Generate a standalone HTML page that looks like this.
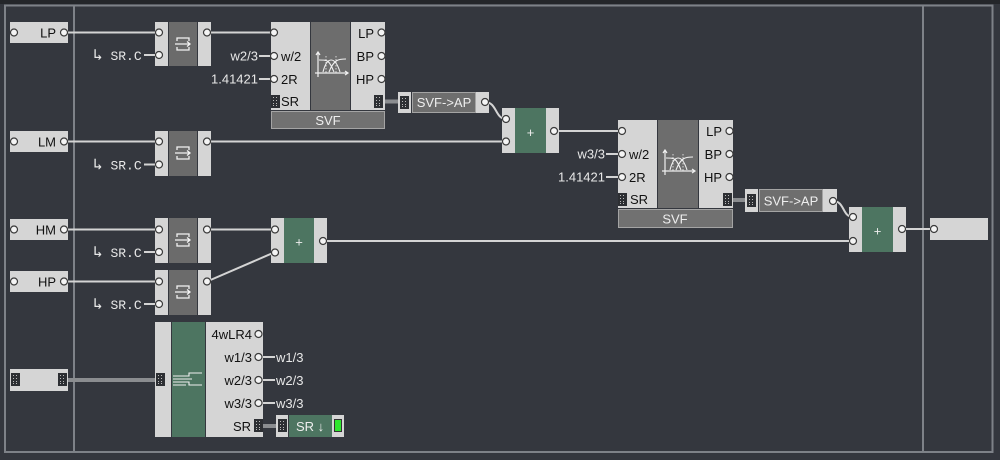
<!DOCTYPE html>
<html><head><meta charset="utf-8"><style>
html,body{margin:0;padding:0;background:#34373e;width:1000px;height:460px;overflow:hidden}
svg{display:block}
.t{font-family:"Liberation Sans","DejaVu Sans",sans-serif;font-size:13px}
.m{font-family:"Liberation Mono","DejaVu Sans Mono",monospace;font-size:13px}
</style></head><body>
<svg width="1000" height="460" viewBox="0 0 1000 460" xmlns="http://www.w3.org/2000/svg">
<defs>
<g id="sr">
<rect x="0" y="0" width="9" height="13" fill="#2d2f33"/>
<rect x="2" y="2" width="1" height="1" fill="#bbb"/><rect x="5" y="2" width="1" height="1" fill="#bbb"/>
<rect x="2" y="5" width="1" height="1" fill="#bbb"/><rect x="5" y="5" width="1" height="1" fill="#bbb"/>
<rect x="2" y="8" width="1" height="1" fill="#bbb"/><rect x="5" y="8" width="1" height="1" fill="#bbb"/>
<rect x="2" y="10" width="1" height="1" fill="#bbb"/><rect x="5" y="10" width="1" height="1" fill="#bbb"/>
</g>
<g id="conv">
<path d="M-6,-3 V-6 H6 V-3 M-6,3 V6 H6 V3 M-8,0 H7 M4,-2.5 L7,0 L4,2.5" fill="none" stroke="#f2f2f2" stroke-width="1.3"/>
</g>
<g id="svfi">
<path d="M-13,-12 V13 M-16,9 H17 M14,7 L17,9 L14,11 M-15,-9 L-13,-12 L-11,-9" fill="none" stroke="#f0f0f0" stroke-width="1.2"/>
<path d="M-12,-4 C-3,-4 -2,-4 3,8 M-8,8 C-4,-8 4,-8 9,8 M-2,8 C3,-5 8,-5 15,-5" fill="none" stroke="#f0f0f0" stroke-width="1.1"/>
<path d="M-5,-8 V9 M5,-8 V9" fill="none" stroke="#f0f0f0" stroke-width="0.8" stroke-dasharray="1.5,1.5"/>
</g>
</defs>

<rect width="1000" height="460" fill="#34373e"/>
<rect width="1000" height="4" fill="#24262a"/>
<rect x="5" y="5.5" width="987.5" height="446.5" fill="none" stroke="#7e8288" stroke-width="2"/>
<line x1="74" y1="5" x2="74" y2="452" stroke="#7e8288" stroke-width="2"/>
<line x1="923" y1="5" x2="923" y2="452" stroke="#7e8288" stroke-width="2"/>

<!-- thick SR links -->
<g stroke="#8b8d90" stroke-width="4">
<line x1="66" y1="380" x2="158" y2="380"/>
<line x1="380" y1="101.5" x2="402" y2="101.5"/>
<line x1="729" y1="200" x2="750" y2="200"/>
<line x1="260" y1="426" x2="283" y2="426"/>
</g>

<!-- wires -->
<g fill="none" stroke="#d4d4d4" stroke-width="2">
<line x1="64" y1="32.5" x2="159" y2="32.5"/>
<line x1="207" y1="32.5" x2="274" y2="32.5"/>
<line x1="64" y1="141.5" x2="159" y2="141.5"/>
<line x1="207" y1="141.5" x2="506" y2="141.5"/>
<line x1="64" y1="229.5" x2="159" y2="229.5"/>
<line x1="207" y1="229.5" x2="274" y2="229.5"/>
<line x1="64" y1="281.5" x2="159" y2="281.5"/>
<line x1="207" y1="281.5" x2="274" y2="252.5"/>
<line x1="323" y1="241" x2="853" y2="241"/>
<path d="M485,102 C497,102 495,119 506,119"/>
<line x1="554" y1="131" x2="622" y2="131"/>
<path d="M833,201 C845,201 842,217 853,217"/>
<line x1="902" y1="229" x2="934" y2="229"/>
<!-- label stubs -->
<line x1="144" y1="55" x2="159" y2="55"/>
<line x1="144" y1="164.5" x2="159" y2="164.5"/>
<line x1="144" y1="252" x2="159" y2="252"/>
<line x1="144" y1="304" x2="159" y2="304"/>
<line x1="259" y1="56" x2="274" y2="56"/>
<line x1="259" y1="79" x2="274" y2="79"/>
<line x1="606" y1="154" x2="622" y2="154"/>
<line x1="606" y1="177" x2="622" y2="177"/>
<line x1="258" y1="357" x2="275" y2="357"/>
<line x1="258" y1="380" x2="275" y2="380"/>
<line x1="258" y1="403" x2="275" y2="403"/>
</g>

<!-- input nodes -->
<g fill="#d5d5d5">
<rect x="10" y="22" width="58" height="21"/>
<rect x="10" y="131" width="58" height="21"/>
<rect x="10" y="219" width="58" height="21"/>
<rect x="10" y="271" width="58" height="21"/>
<rect x="10" y="369" width="58" height="22"/>
<rect x="930" y="218" width="58" height="22"/>
</g>
<use href="#sr" x="11" y="373"/>
<use href="#sr" x="58" y="373"/>
<g class="t" fill="#111" text-anchor="end" font-size="14">
<text x="56" y="37.5">LP</text>
<text x="56" y="146.5">LM</text>
<text x="56" y="234.5">HM</text>
<text x="56" y="286.5">HP</text>
</g>

<!-- converters -->
<g>
<g fill="#d5d5d5">
<rect x="155" y="22" width="13" height="44"/><rect x="198" y="22" width="13" height="44"/>
<rect x="155" y="131" width="13" height="45"/><rect x="198" y="131" width="13" height="45"/>
<rect x="155" y="218" width="13" height="45"/><rect x="198" y="218" width="13" height="45"/>
<rect x="155" y="270" width="13" height="45"/><rect x="198" y="270" width="13" height="45"/>
</g>
<g fill="#6b6b6b">
<rect x="169" y="22" width="28" height="44"/>
<rect x="169" y="131" width="28" height="45"/>
<rect x="169" y="218" width="28" height="45"/>
<rect x="169" y="270" width="28" height="45"/>
</g>
<use href="#conv" x="183" y="44"/>
<use href="#conv" x="183" y="153"/>
<use href="#conv" x="183" y="240"/>
<use href="#conv" x="183" y="292"/>
</g>
<g class="m" fill="#e8e8e8" font-size="13.5">
<text x="93" y="60"><tspan font-size="16">↳</tspan> SR.C</text>
<text x="93" y="169.5"><tspan font-size="16">↳</tspan> SR.C</text>
<text x="93" y="257"><tspan font-size="16">↳</tspan> SR.C</text>
<text x="93" y="309"><tspan font-size="16">↳</tspan> SR.C</text>
</g>

<!-- SVF 1 -->
<rect x="271" y="22" width="39" height="88" fill="#d5d5d5"/>
<rect x="311" y="22" width="39" height="88" fill="#6d6d6d"/>
<rect x="351" y="22" width="34" height="88" fill="#d5d5d5"/>
<rect x="271.5" y="111.5" width="113" height="17" fill="#717171" stroke="#a4a4a4" stroke-width="1"/>
<use href="#svfi" x="331" y="64"/>
<use href="#sr" x="271" y="95"/>
<use href="#sr" x="374" y="95"/>
<g class="t" fill="#111" font-size="14">
<text x="281" y="61">w/2</text>
<text x="281" y="84">2R</text>
<text x="281" y="106">SR</text>
<text x="374" y="38" text-anchor="end">LP</text>
<text x="374" y="61" text-anchor="end">BP</text>
<text x="374" y="84" text-anchor="end">HP</text>
</g>
<text class="t" x="328" y="125" text-anchor="middle" fill="#eee" font-size="14">SVF</text>

<!-- SVF 2 -->
<rect x="618" y="120" width="39" height="88" fill="#d5d5d5"/>
<rect x="658" y="120" width="40" height="88" fill="#6d6d6d"/>
<rect x="699" y="120" width="34" height="88" fill="#d5d5d5"/>
<rect x="618.5" y="209.5" width="114" height="18" fill="#717171" stroke="#a4a4a4" stroke-width="1"/>
<use href="#svfi" x="678" y="162"/>
<use href="#sr" x="618" y="193"/>
<use href="#sr" x="723" y="193"/>
<g class="t" fill="#111" font-size="14">
<text x="629" y="159">w/2</text>
<text x="629" y="182">2R</text>
<text x="630" y="204">SR</text>
<text x="722" y="136" text-anchor="end">LP</text>
<text x="722" y="159" text-anchor="end">BP</text>
<text x="722" y="182" text-anchor="end">HP</text>
</g>
<text class="t" x="675" y="223.5" text-anchor="middle" fill="#eee" font-size="14">SVF</text>

<!-- external labels -->
<g class="t" fill="#e8e8e8" text-anchor="end" font-size="13">
<text x="258" y="60.5">w2/3</text>
<text x="258" y="83.5">1.41421</text>
<text x="605" y="158.5">w3/3</text>
<text x="605" y="181.5">1.41421</text>
</g>

<!-- SVF->AP 1 -->
<rect x="398" y="92" width="13" height="21" fill="#d5d5d5"/>
<rect x="412.5" y="92.5" width="63" height="20" fill="#6e6e6e" stroke="#a4a4a4" stroke-width="1"/>
<rect x="476" y="92" width="13" height="21" fill="#d5d5d5"/>
<use href="#sr" x="400" y="96"/>
<text class="t" x="444" y="107" text-anchor="middle" fill="#eee" font-size="14">SVF-&gt;AP</text>

<!-- SVF->AP 2 -->
<rect x="745" y="189" width="13" height="23" fill="#d5d5d5"/>
<rect x="759.5" y="189.5" width="63" height="22" fill="#6e6e6e" stroke="#a4a4a4" stroke-width="1"/>
<rect x="823" y="189" width="14" height="23" fill="#d5d5d5"/>
<use href="#sr" x="747" y="194"/>
<text class="t" x="791" y="205.5" text-anchor="middle" fill="#eee" font-size="14">SVF-&gt;AP</text>

<!-- plus nodes -->
<g>
<rect x="502" y="108" width="13" height="45" fill="#d5d5d5"/>
<rect x="515" y="108" width="31" height="45" fill="#4d7561"/>
<rect x="546" y="108" width="13" height="45" fill="#d5d5d5"/>
<rect x="271" y="218" width="13" height="45" fill="#d5d5d5"/>
<rect x="284" y="218" width="30" height="45" fill="#4d7561"/>
<rect x="314" y="218" width="13" height="45" fill="#d5d5d5"/>
<rect x="849" y="207" width="13" height="45" fill="#d5d5d5"/>
<rect x="862" y="207" width="31" height="45" fill="#4d7561"/>
<rect x="893" y="207" width="13" height="45" fill="#d5d5d5"/>
</g>
<g class="t" fill="#eee" text-anchor="middle" font-size="17">
<text x="530.5" y="137">+</text>
<text x="299" y="246.5">+</text>
<text x="877.5" y="235.5">+</text>
</g>

<!-- mixer 4wLR4 -->
<rect x="155" y="322" width="16" height="115" fill="#d5d5d5"/>
<rect x="172" y="322" width="33" height="115" fill="#4d7561"/>
<rect x="206" y="322" width="57" height="115" fill="#d5d5d5"/>
<use href="#sr" x="156" y="373"/>
<path d="M173,376 H189 V373 H202 M173,379 H192 M173,382 H189 V385 H202 M173,385 H186" fill="none" stroke="#f0f0f0" stroke-width="1.1"/>
<use href="#sr" x="254" y="419"/>
<g class="t" fill="#111" text-anchor="end" font-size="14">
<text x="252" y="339">4wLR4</text>
<text x="252" y="362">w1/3</text>
<text x="252" y="385">w2/3</text>
<text x="252" y="408">w3/3</text>
<text x="251" y="431">SR</text>
</g>
<g class="t" fill="#e8e8e8" font-size="14">
<text x="276" y="362">w1/3</text>
<text x="276" y="385">w2/3</text>
<text x="276" y="408">w3/3</text>
</g>

<!-- SR node -->
<rect x="276" y="415" width="12" height="22" fill="#d5d5d5"/>
<rect x="289" y="415" width="43" height="22" fill="#4d7561"/>
<rect x="332" y="415" width="12" height="22" fill="#d5d5d5"/>
<use href="#sr" x="278" y="419"/>
<rect x="334.5" y="419.5" width="7" height="12" fill="#2ee62e" stroke="#333" stroke-width="1"/>
<text class="t" x="296" y="431" fill="#eee" font-size="14">SR ↓</text>

<!-- ports -->
<g fill="#f4f4f4" stroke="#3a3a3a" stroke-width="1.2">
<circle cx="14" cy="32.5" r="3.5"/><circle cx="64" cy="32.5" r="3.5"/>
<circle cx="14" cy="141.5" r="3.5"/><circle cx="64" cy="141.5" r="3.5"/>
<circle cx="14" cy="229.5" r="3.5"/><circle cx="64" cy="229.5" r="3.5"/>
<circle cx="14" cy="281.5" r="3.5"/><circle cx="64" cy="281.5" r="3.5"/>
<circle cx="159" cy="32.5" r="3.5"/><circle cx="159" cy="55" r="3.5"/><circle cx="207" cy="32.5" r="3.5"/>
<circle cx="159" cy="141.5" r="3.5"/><circle cx="159" cy="164.5" r="3.5"/><circle cx="207" cy="141.5" r="3.5"/>
<circle cx="159" cy="229.5" r="3.5"/><circle cx="159" cy="252" r="3.5"/><circle cx="207" cy="229.5" r="3.5"/>
<circle cx="159" cy="281.5" r="3.5"/><circle cx="159" cy="304" r="3.5"/><circle cx="207" cy="281.5" r="3.5"/>
<circle cx="274" cy="32.5" r="3.5"/><circle cx="274" cy="56" r="3.5"/><circle cx="274" cy="79" r="3.5"/>
<circle cx="381.5" cy="32.5" r="3.5"/><circle cx="381.5" cy="56" r="3.5"/><circle cx="381.5" cy="79" r="3.5"/>
<circle cx="622" cy="131" r="3.5"/><circle cx="622" cy="154" r="3.5"/><circle cx="622" cy="177" r="3.5"/>
<circle cx="729.5" cy="131" r="3.5"/><circle cx="729.5" cy="154" r="3.5"/><circle cx="729.5" cy="177" r="3.5"/>
<circle cx="485" cy="102" r="3.5"/><circle cx="833" cy="201" r="3.5"/>
<circle cx="506" cy="119" r="3.5"/><circle cx="506" cy="141.5" r="3.5"/><circle cx="554" cy="131" r="3.5"/>
<circle cx="275" cy="229.5" r="3.5"/><circle cx="275" cy="252.5" r="3.5"/><circle cx="323" cy="241" r="3.5"/>
<circle cx="853" cy="217" r="3.5"/><circle cx="853" cy="241" r="3.5"/><circle cx="902" cy="229" r="3.5"/>
<circle cx="934" cy="229" r="3.5"/>
<circle cx="258.5" cy="334" r="3.5"/><circle cx="258.5" cy="357" r="3.5"/><circle cx="258.5" cy="380" r="3.5"/><circle cx="258.5" cy="403" r="3.5"/>
</g>
</svg>
</body></html>
